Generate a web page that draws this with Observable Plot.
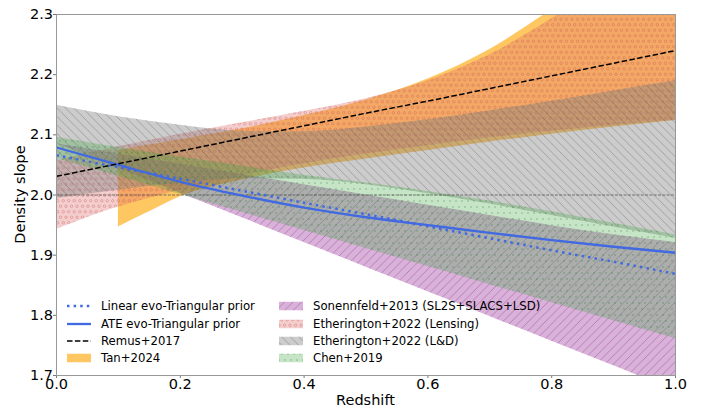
<!DOCTYPE html>
<html><head><meta charset="utf-8">
<script src="https://cdn.jsdelivr.net/npm/d3@7"></script>
<script src="https://cdn.jsdelivr.net/npm/@observablehq/plot@0.6"></script>
<style>
body{margin:0;background:#fff;}
#wrap{position:relative;width:703px;height:408px;font-family:"DejaVu Sans",sans-serif;}
.leg{position:absolute;font-size:11.7px;display:flex;align-items:center;white-space:nowrap;height:14px;color:#000;}
.leg svg{margin-right:10px;flex:none;}
</style></head><body><div id="wrap"></div>
<script>
// ---- data ----
const zs = [0, 0.1, 0.2, 0.3, 0.4, 0.5, 0.6, 0.7, 0.8, 0.9, 1.0];

const tanZ  = [0.1, 0.15, 0.2, 0.3, 0.4, 0.5, 0.6, 0.7, 0.8, 0.9, 1.0];
const tanLo = [1.947, 1.972, 1.997, 2.025, 2.045, 2.060, 2.074, 2.088, 2.101, 2.113, 2.124];
const tanHi = [2.074, 2.083, 2.092, 2.110, 2.132, 2.158, 2.193, 2.242, 2.308, 2.380, 2.460];

const sonLo = [2.085, 2.044, 2.003, 1.962, 1.921, 1.880, 1.839, 1.798, 1.757, 1.716, 1.675];
const sonHi = [2.085, 2.068, 2.051, 2.034, 2.017, 2.000, 1.983, 1.966, 1.949, 1.934, 1.921];

const lensLo = [1.943, 1.980, 2.008, 2.032, 2.052, 2.068, 2.082, 2.095, 2.106, 2.116, 2.124];
const lensHi = [2.057, 2.080, 2.101, 2.120, 2.139, 2.160, 2.190, 2.233, 2.293, 2.360, 2.430];

const ldLo = [1.994, 2.008, 2.020, 2.027, 2.026, 2.017, 2.002, 1.985, 1.966, 1.947, 1.928];
const ldHi = [2.149, 2.130, 2.116, 2.106, 2.105, 2.113, 2.125, 2.140, 2.156, 2.173, 2.190];

const chenLo = [2.061, 2.031, 2.001, 1.971, 1.941, 1.911, 1.881, 1.851, 1.821, 1.791, 1.761];
const chenHi = [2.096, 2.079, 2.063, 2.048, 2.033, 2.020, 2.006, 1.990, 1.972, 1.953, 1.934];

const linearEvo = [2.066, 2.046, 2.027, 2.007, 1.987, 1.968, 1.948, 1.928, 1.908, 1.889, 1.869];
const ateEvo    = [2.079, 2.050, 2.022, 1.999, 1.979, 1.963, 1.950, 1.937, 1.925, 1.914, 1.904];
const remus     = [2.031, 2.052, 2.073, 2.094, 2.115, 2.136, 2.156, 2.177, 2.198, 2.219, 2.240];
const refLevel  = [2.0];

const xTicks = [0, 0.2, 0.4, 0.6, 0.8, 1.0];
const yTicks = [1.7, 1.8, 1.9, 2.0, 2.1, 2.2, 2.3];

const legendCol1 = ["Linear evo-Triangular prior", "ATE evo-Triangular prior", "Remus+2017", "Tan+2024"];
const legendCol2 = ["Sonennfeld+2013 (SL2S+SLACS+LSD)", "Etherington+2022 (Lensing)", "Etherington+2022 (L&D)", "Chen+2019"];

// ---- styles ----
const C = {
  blue: "#4169E1",
  tan: "#FFA500", tanOp: 0.62,
  son: "#800080", sonOp: 0.3,
  lens: "#E07070", lensOp: 0.35,
  ld: "#808080", ldOp: 0.4,
  chen: "#43A847", chenOp: 0.3
};

const band = (z, lo, hi) => z.map((d, i) => ({z: d, lo: lo[i], hi: hi[i]}));
const line = (z, v) => z.map((d, i) => ({z: d, v: v[i]}));

const tanD = band(tanZ, tanLo, tanHi);
const sonD = band(zs, sonLo, sonHi);
const lensD = band(zs, lensLo, lensHi);
const ldD = band(zs, ldLo, ldHi);
const chenD = band(zs, chenLo, chenHi);

function areas(data, fill, op, pat) {
  const m = [Plot.areaY(data, {x: "z", y1: "lo", y2: "hi", fill, fillOpacity: op, curve: "monotone-x", clip: true})];
  if (pat) m.push(Plot.areaY(data, {x: "z", y1: "lo", y2: "hi", fill: `url(#${pat})`, curve: "monotone-x", clip: true}));
  return m;
}

const W = 703, H = 408, ML = 56, MR = 28, MT = 14, MB = 33;

const svg = Plot.plot({
  width: W, height: H,
  marginLeft: ML, marginRight: MR, marginTop: MT, marginBottom: MB,
  style: {fontFamily: "DejaVu Sans", fontSize: "14.5px", color: "black", background: "white", overflow: "visible"},
  x: {domain: [0, 1]},
  y: {domain: [1.7, 2.3]},
  marks: [
    ...areas(tanD, C.tan, C.tanOp, null),
    ...areas(sonD, C.son, C.sonOp, "hSon"),
    ...areas(lensD, C.lens, C.lensOp, "hLens"),
    ...areas(ldD, C.ld, C.ldOp, "hLD"),
    ...areas(chenD, C.chen, C.chenOp, "hChen"),
    Plot.ruleY(refLevel, {stroke: "#555", strokeWidth: 0.8, strokeDasharray: "3,1.3"}),
    Plot.lineY(line(zs, linearEvo), {x: "z", y: "v", stroke: C.blue, strokeWidth: 2.5, strokeDasharray: "2.5,4.1", strokeLinecap: "butt", curve: "monotone-x"}),
    Plot.lineY(line(zs, ateEvo), {x: "z", y: "v", stroke: C.blue, strokeWidth: 2.3, strokeLinecap: "butt", curve: "monotone-x"}),
    Plot.lineY(line(zs, remus), {x: "z", y: "v", stroke: "black", strokeWidth: 1.5, strokeDasharray: "5.5,2.4", strokeLinecap: "butt"}),
    Plot.axisX({ticks: xTicks, tickFormat: d3.format(".1f"), tickSize: 3, tickPadding: 0.5, stroke: "#777", fill: "black", label: null}),
    Plot.axisY({ticks: yTicks, tickFormat: d3.format(".1f"), tickSize: 3, tickPadding: 0.5, stroke: "#777", fill: "black", label: null}),
    Plot.frame({stroke: "#999", strokeWidth: 1})
  ]
});

// hatch patterns
const s = d3.select(svg);
const defs = s.insert("defs", ":first-child");
{
  const w = 8.5;
  defs.append("pattern").attr("id", "hLD").attr("patternUnits", "userSpaceOnUse").attr("width", w).attr("height", w)
    .append("path").attr("d", `M0,0L${w},${w}M-2,${w-2}L2,${w+2}M${w-2},-2L${w+2},2`)
    .attr("stroke", "#555").attr("stroke-opacity", 0.45).attr("stroke-width", 0.8).attr("fill", "none");
  defs.append("pattern").attr("id", "hSon").attr("patternUnits", "userSpaceOnUse").attr("width", w).attr("height", w)
    .append("path").attr("d", `M0,${w}L${w},0M-2,2L2,-2M${w-2},${w+2}L${w+2},${w-2}`)
    .attr("stroke", "#800080").attr("stroke-opacity", 0.4).attr("stroke-width", 0.8).attr("fill", "none");
  const lp = defs.append("pattern").attr("id", "hLens").attr("patternUnits", "userSpaceOnUse").attr("width", 11).attr("height", 11);
  [[2.75, 2.75], [8.25, 2.75], [0, 8.25], [5.5, 8.25], [11, 8.25]].forEach(([cx, cy]) =>
    lp.append("circle").attr("cx", cx).attr("cy", cy).attr("r", 1.25).attr("fill", "none")
      .attr("stroke", "#C04848").attr("stroke-opacity", 0.45).attr("stroke-width", 0.7));
  const cp = defs.append("pattern").attr("id", "hChen").attr("patternUnits", "userSpaceOnUse").attr("width", 12).attr("height", 12);
  [[3, 3], [9, 3], [0, 9], [6, 9], [12, 9]].forEach(([cx, cy]) =>
    cp.append("circle").attr("cx", cx).attr("cy", cy).attr("r", 0.65).attr("fill", "#1E6E22").attr("fill-opacity", 0.55));
}

// axis labels
const px = (ML + W - MR) / 2, py = (MT + H - MB) / 2;
s.append("text").attr("x", px).attr("y", 405).attr("text-anchor", "middle")
  .attr("font-family", "DejaVu Sans").attr("font-size", 14.5).attr("fill", "black").text("Redshift");
s.append("text").attr("transform", `translate(25,${py}) rotate(-90)`).attr("text-anchor", "middle")
  .attr("font-family", "DejaVu Sans").attr("font-size", 14.5).attr("fill", "black").text("Density slope");

const wrap = document.getElementById("wrap");
wrap.appendChild(svg);

// legend (overlay, no frame)
const rowsY = [306, 323.5, 341, 358];
function addItem(left, cy, swatch, label) {
  const d = document.createElement("div");
  d.className = "leg";
  d.style.left = left + "px";
  d.style.top = (cy - 7) + "px";
  d.innerHTML = `<svg width="24" height="14">${swatch}</svg><span>${label.replace("&", "&amp;")}</span>`;
  wrap.appendChild(d);
}
const sw1 = [
  `<line x1="0" x2="24" y1="7" y2="7" stroke="${C.blue}" stroke-width="2.5" stroke-dasharray="2.5,4.1"/>`,
  `<line x1="0" x2="24" y1="7" y2="7" stroke="${C.blue}" stroke-width="2.3"/>`,
  `<line x1="0" x2="24" y1="7" y2="7" stroke="black" stroke-width="1.5" stroke-dasharray="5.5,2.4"/>`,
  `<rect x="0" y="2.75" width="24" height="8.5" fill="${C.tan}" fill-opacity="${C.tanOp}"/>`
];
const patch = (c, op, pat) => `<rect x="0" y="2.75" width="24" height="8.5" fill="${c}" fill-opacity="${op}"/><rect x="0" y="2.75" width="24" height="8.5" fill="url(#${pat})"/>`;
const sw2 = [patch(C.son, C.sonOp, "hSon"), patch(C.lens, C.lensOp, "hLens"), patch(C.ld, C.ldOp, "hLD"), patch(C.chen, C.chenOp, "hChen")];
legendCol1.forEach((t, i) => addItem(67, rowsY[i], sw1[i], t));
legendCol2.forEach((t, i) => addItem(279, rowsY[i], sw2[i], t));
</script></body></html>
